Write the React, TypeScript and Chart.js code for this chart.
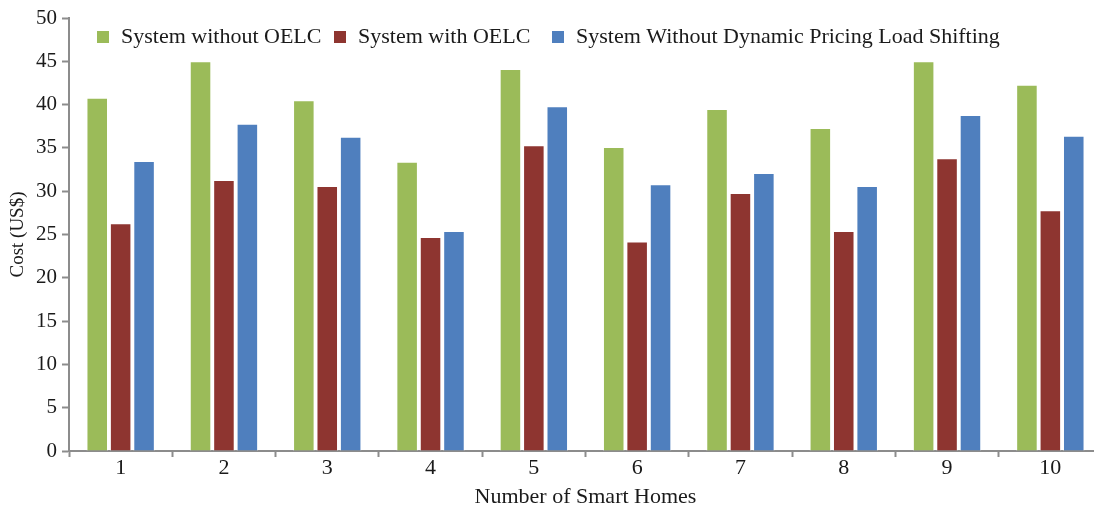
import React, { useEffect, useRef } from "react";
import { Chart, registerables } from "chart.js";

Chart.register(...registerables);

const categories = ["1", "2", "3", "4", "5", "6", "7", "8", "9", "10"];
const withoutOELC = [40.8, 45.0, 40.5, 33.4, 44.1, 35.1, 39.5, 37.3, 45.0, 42.3];
const withOELC = [26.3, 31.3, 30.6, 24.7, 35.3, 24.2, 29.8, 25.4, 33.8, 27.8];
const withoutDynamic = [33.5, 37.8, 36.3, 25.4, 39.8, 30.8, 32.1, 30.6, 38.8, 36.4];
const seriesLabels = [
  "System without OELC",
  "System with OELC",
  "System Without Dynamic Pricing Load Shifting",
];
const seriesColors = ["#9BBB59", "#8E3530", "#4F7FBE"];
const yTitle = "Cost (US$)";
const xTitle = "Number of Smart Homes";

const FONT = "'Liberation Serif', 'Times New Roman', serif";
const AXIS = "#8c8c8c";
const legendBoxX = [97, 334, 552];

export default function App() {
  const ref = useRef<HTMLCanvasElement>(null);
  useEffect(() => {
    if (!ref.current) return;
    const insideLegend = {
      id: "insideLegend",
      afterDraw(chart: any) {
        const ctx = chart.ctx;
        const y = chart.chartArea.top + 19;
        ctx.save();
        ctx.font = `22px ${FONT}`;
        ctx.textBaseline = "middle";
        ctx.textAlign = "left";
        chart.data.datasets.forEach((ds: any, i: number) => {
          const x = legendBoxX[i];
          ctx.fillStyle = ds.backgroundColor;
          ctx.fillRect(x, y - 6, 12, 12);
          ctx.fillStyle = "#1a1a1a";
          ctx.fillText(ds.label, x + 24, y);
        });
        ctx.restore();
      },
    };
    const chart = new Chart(ref.current, {
      type: "bar",
      data: {
        labels: categories,
        datasets: [
          { label: seriesLabels[0], data: withoutOELC, backgroundColor: seriesColors[0] },
          { label: seriesLabels[1], data: withOELC, backgroundColor: seriesColors[1] },
          { label: seriesLabels[2], data: withoutDynamic, backgroundColor: seriesColors[2] },
        ].map((d) => ({
          ...d,
          borderColor: "#ffffff",
          borderWidth: 1,
          categoryPercentage: 0.68,
          barPercentage: 0.92,
        })),
      },
      options: {
        responsive: false,
        animation: false,
        layout: { padding: { left: 0, top: 18, right: 8, bottom: 0 } },
        plugins: {
          legend: { display: false },
          tooltip: { enabled: false },
        },
        scales: {
          x: {
            grid: {
              display: true,
              drawOnChartArea: false,
              drawTicks: true,
              tickLength: 6,
              tickWidth: 2,
              color: AXIS,
              offset: true,
            },
            border: { display: true, color: AXIS, width: 2 },
            ticks: {
              color: "#1a1a1a",
              padding: -2,
              font: { family: FONT, size: 22 },
            },
            title: {
              display: true,
              text: xTitle,
              color: "#1a1a1a",
              font: { family: FONT, size: 22 },
              padding: { top: 0, bottom: 2 },
            },
            afterFit(scale: any) {
              scale.height = 61;
            },
          },
          y: {
            min: 0,
            max: 50,
            ticks: {
              stepSize: 5,
              color: "#1a1a1a",
              padding: 5,
              font: { family: FONT, size: 21 },
            },
            grid: {
              display: true,
              drawOnChartArea: false,
              drawTicks: true,
              tickLength: 7,
              tickWidth: 2,
              color: AXIS,
            },
            border: { display: true, color: AXIS, width: 2 },
            title: {
              display: true,
              text: yTitle,
              color: "#1a1a1a",
              font: { family: FONT, size: 19 },
              padding: { top: 7, bottom: 0 },
            },
            afterFit(scale: any) {
              scale.width = 69;
            },
          },
        },
      },
      plugins: [insideLegend],
    } as any);
    return () => chart.destroy();
  }, []);

  return (
    <div
      style={{
        position: "fixed",
        left: 0,
        top: 0,
        width: 1094,
        height: 512,
        overflow: "hidden",
        background: "#ffffff",
      }}
    >
      <canvas ref={ref} width={1110} height={512} style={{ display: "block" }} />
    </div>
  );
}
